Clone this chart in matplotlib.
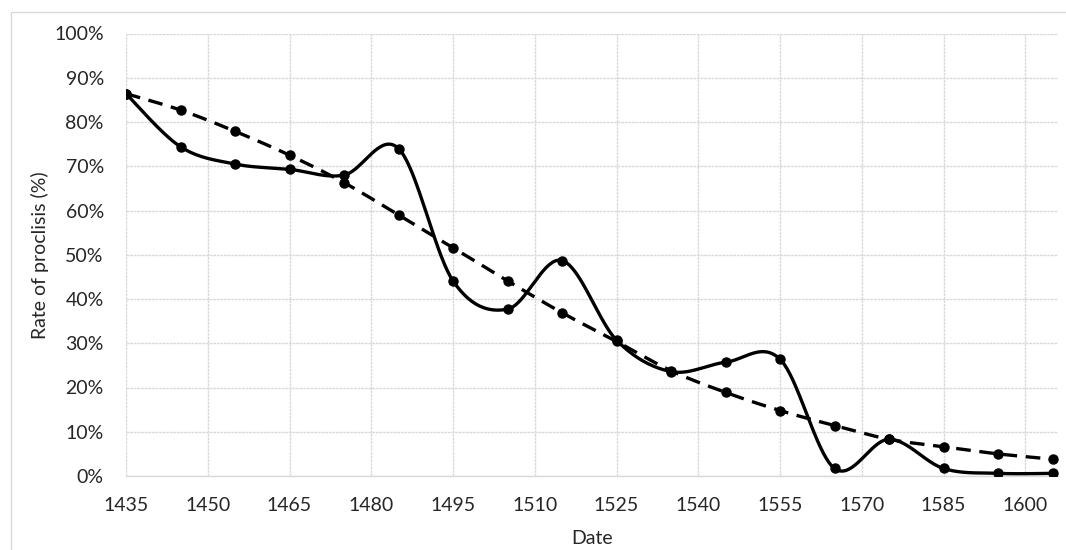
import numpy as np
import matplotlib
matplotlib.use("Agg")
import matplotlib.pyplot as plt
from matplotlib.patches import Rectangle

plt.rcParams['font.family'] = ['Lato', 'DejaVu Sans']

years = [1435, 1445, 1455, 1465, 1475, 1485, 1495, 1505, 1515, 1525,
         1535, 1545, 1555, 1565, 1575, 1585, 1595, 1605]
observed = [86.4, 74.4, 70.5, 69.3, 68.0, 74.0, 44.1, 37.7, 48.7, 30.7,
            23.6, 25.7, 26.4, 1.7, 8.3, 1.7, 0.6, 0.6]
trend = [86.4, 82.7, 77.9, 72.5, 66.3, 59.0, 51.6, 44.1, 36.9, 30.4,
         23.8, 18.9, 14.8, 11.4, 8.3, 6.6, 5.0, 3.8]
xticks = [1435, 1450, 1465, 1480, 1495, 1510, 1525, 1540, 1555, 1570, 1585, 1600]
yticks = [0, 10, 20, 30, 40, 50, 60, 70, 80, 90, 100]
ytick_labels = [f"{v}%" for v in yticks]


def smooth(xs, ys, n=40):
    """Excel-like smoothed line: cubic Bezier with Catmull-Rom control points."""
    P = np.column_stack([xs, ys]).astype(float)
    m = len(P)
    out = []
    for i in range(m - 1):
        p0 = P[i - 1] if i > 0 else P[i]
        p1 = P[i]
        p2 = P[i + 1]
        p3 = P[i + 2] if i + 2 < m else P[i + 1]
        c1 = p1 + (p2 - p0) / 6.0
        c2 = p2 - (p3 - p1) / 6.0
        t = np.linspace(0, 1, n)[:, None]
        seg = ((1 - t) ** 3) * p1 + 3 * ((1 - t) ** 2) * t * c1 + 3 * (1 - t) * t ** 2 * c2 + t ** 3 * p2
        if i > 0:
            seg = seg[1:]
        out.append(seg)
    out = np.vstack(out)
    return out[:, 0], out[:, 1]


W, H = 1066, 550
fig = plt.figure(figsize=(W / 100, H / 100), dpi=100)
fig.patch.set_facecolor('white')

# outer chart border
fig.add_artist(Rectangle((11 / W, -0.05), 1.1, 1 - 12 / H + 0.05, transform=fig.transFigure,
                         fill=False, edgecolor='#d9d9d9', linewidth=1.0))

ax = fig.add_axes([126 / W, 1 - 476 / H, (1058 - 126) / W, (476 - 33.5) / H])
ax.set_xlim(1435, 1606)
ax.set_ylim(0, 100)

sx, sy = smooth(years, observed)
ax.plot(sx, sy, color='black', linewidth=2.4, solid_capstyle='round', zorder=3)
ax.plot(years, observed, 'o', color='black', markersize=6.5, zorder=4)

tx, ty = smooth(years, trend)
ax.plot(tx, ty, color='black', linewidth=2.4, dashes=(4.4, 2.6), zorder=3)
ax.plot(years, trend, 'o', color='black', markersize=6.5, zorder=4)

ax.set_xticks(xticks)
ax.set_xticklabels([str(v) for v in xticks])
ax.set_yticks(yticks)
ax.set_yticklabels(ytick_labels)
ax.grid(True, color='#d9d9d9', linewidth=1.0, linestyle=(0, (2, 0.6)))
ax.set_axisbelow(True)
for s in ['top', 'right', 'left']:
    ax.spines[s].set_visible(False)
ax.spines['bottom'].set_color('#d9d9d9')
ax.spines['bottom'].set_linewidth(1.0)
fs = 14
ax.tick_params(axis='both', length=0, labelsize=fs, colors='#262626')
ax.tick_params(axis='x', pad=15)
ax.tick_params(axis='y', pad=16)

ax.set_xlabel('Date', fontsize=fs, color='#262626', labelpad=12)
ax.set_ylabel('Rate of proclisis (%)', fontsize=fs, color='#262626', labelpad=3.5)

fig.savefig('out.png', dpi=100, facecolor='white')
